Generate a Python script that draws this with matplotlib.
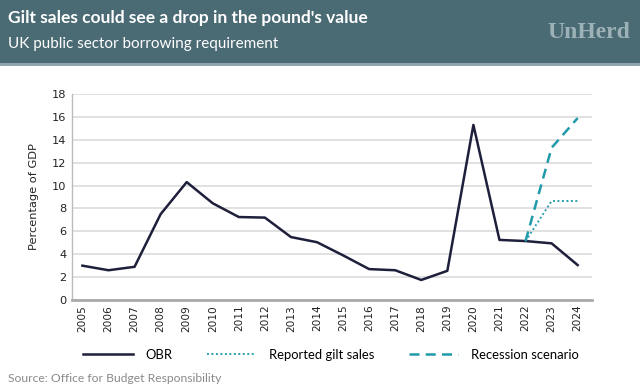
import matplotlib
matplotlib.use("Agg")
import matplotlib.pyplot as plt
from matplotlib.patches import Rectangle
from matplotlib.lines import Line2D

years = list(range(2005, 2025))
obr = [3.0, 2.6, 2.9, 7.5, 10.3, 8.45, 7.25, 7.2, 5.5, 5.05, 3.9, 2.7, 2.6, 1.75, 2.55, 15.3, 5.25, 5.15, 4.95, 3.05]
gilt_years = [2022, 2023, 2024]
gilt = [5.15, 8.65, 8.65]
rec_years = [2022, 2023, 2024]
recession = [5.15, 13.3, 15.9]

W, H = 640, 389
fig = plt.figure(figsize=(W / 100, H / 100), dpi=100)
fig.patch.set_facecolor("white")

# header band
fig.patches.append(Rectangle((0, 1 - 63 / H), 1, 63 / H, transform=fig.transFigure,
                             facecolor="#4a6a74", edgecolor="none", zorder=0))
fig.patches.append(Rectangle((0, 1 - 66 / H), 1, 3 / H, transform=fig.transFigure,
                             facecolor="#8fa5ab", edgecolor="none", zorder=0))
fig.text(8 / W, 1 - 18 / H, "Gilt sales could see a drop in the pound's value", color="white",
         fontsize=12.5, fontweight="bold", family="Lato", va="center", ha="left")
fig.text(8 / W, 1 - 44 / H, "UK public sector borrowing requirement", color="white",
         fontsize=11, family="Lato", va="center", ha="left")
fig.text(630 / W, 1 - 32 / H, "UnHerd", color="#9db2b7", fontsize=17, fontweight="bold",
         family="Liberation Serif", va="center", ha="right")

ax = fig.add_axes([72 / W, 1 - 300 / H, (592 - 72) / W, (300 - 94) / H])
ax.plot(years, obr, color="#1e1f3a", lw=1.8, label="OBR", zorder=3)
ax.plot(gilt_years, gilt, color="#2aa0b0", lw=1.4, ls=(0, (1, 1.3)), label="Reported gilt sales", zorder=3)
ax.plot(rec_years, recession, color="#1f9aaa", lw=1.8, ls=(0, (4, 2.5)), label="Recession scenario", zorder=3)

ax.set_xlim(2004.6, 2024.55)
ax.set_ylim(0, 18)
ax.set_yticks(range(0, 19, 2))
ax.set_xticks(years)
ax.set_xticklabels([str(y) for y in years], rotation=90, fontsize=7.6, family="DejaVu Sans")
for lbl in ax.get_yticklabels():
    lbl.set_fontsize(8.2)
    lbl.set_family("DejaVu Sans")
ax.yaxis.grid(True, color="#dcdcdc", lw=1.2)
ax.set_axisbelow(True)
ax.tick_params(axis="both", length=0, colors="#222222")
ax.tick_params(axis="y", pad=4)
ax.tick_params(axis="x", pad=3.5)
for s in ["top", "right"]:
    ax.spines[s].set_visible(False)
ax.spines["left"].set_color("#bbbbbb")
ax.spines["left"].set_linewidth(1.0)
ax.spines["bottom"].set_color("#aaaaaa")
ax.spines["bottom"].set_linewidth(2)
ax.set_ylabel("Percentage of GDP", fontsize=8.2, family="DejaVu Sans", color="#222222", labelpad=9)

handles = [
    Line2D([], [], color="#1e1f3a", lw=1.8),
    Line2D([], [], color="#2aa0b0", lw=1.4, ls=(0, (1, 1.3))),
    Line2D([], [], color="#1f9aaa", lw=1.8, ls=(0, (4, 2.5))),
]
fig.legend(handles, ["OBR", "Reported gilt sales", "Recession scenario"], loc="center",
           bbox_to_anchor=(331 / W, 1 - 355 / H), ncol=3, frameon=False, handlelength=3.8,
           columnspacing=2.6, handletextpad=1.0, prop={"family": "Lato", "size": 9.4})

fig.text(8 / W, 1 - 378 / H, "Source: Office for Budget Responsibility", color="#8a8a8a",
         fontsize=8.7, family="Lato", va="center", ha="left")

fig.savefig("out.png", dpi=100)
